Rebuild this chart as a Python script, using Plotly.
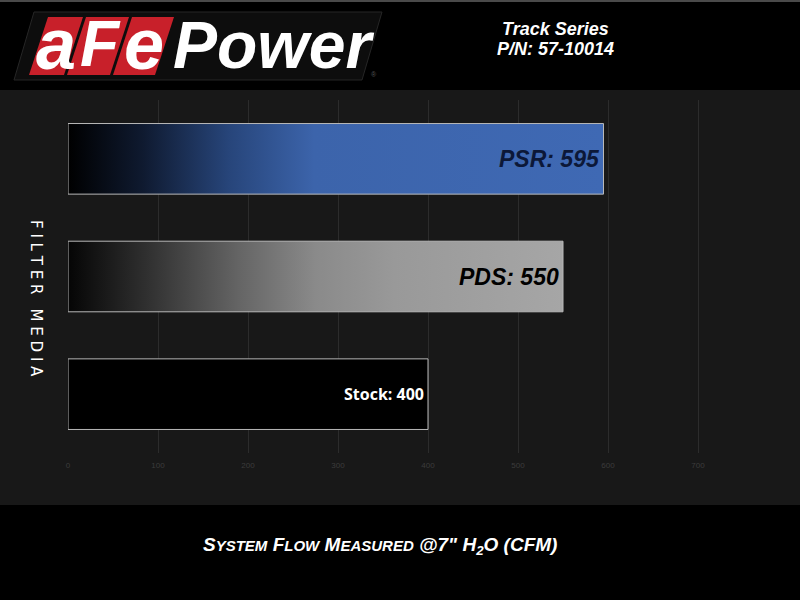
import plotly.graph_objects as go

categories = ["Stock", "PDS", "PSR"]
values = [400, 550, 595]
labels = ["Stock: 400", "PDS: 550", "PSR: 595"]
tick_vals = [0, 100, 200, 300, 400, 500, 600, 700]
title_lines = ["Track Series", "P/N: 57-10014"]

grad_scales = [
    [[0, "#000000"], [1, "#000000"]],
    [[0, "#050505"], [0.16, "#303030"], [0.35, "#666666"], [0.5, "#8a8a8a"], [0.66, "#999999"], [1, "#a6a6a6"]],
    [[0, "#000000"], [0.14, "#0f1a30"], [0.3, "#27457a"], [0.46, "#3c64ab"], [1, "#3f69b4"]],
]
label_fonts = [
    dict(family="Open Sans", size=16, color="#ffffff", weight="bold"),
    dict(family="Liberation Sans", size=23, color="#000000", weight="bold", style="italic"),
    dict(family="Liberation Sans", size=23, color="#0c1838", weight="bold", style="italic"),
]

ML, MR, MT, MB = 68, 12, 100, 147
PW, PH = 800 - ML - MR, 600 - MT - MB

fig = go.Figure()
hw = 0.3
for i, (c, v) in enumerate(zip(categories, values)):
    fig.add_trace(go.Scatter(
        x=[0, v, v, 0, 0], y=[i - hw, i - hw, i + hw, i + hw, i - hw],
        mode="lines", fill="toself",
        fillgradient=dict(type="horizontal", colorscale=grad_scales[i]),
        line=dict(color="#b8b8b8", width=1), name=c, showlegend=False, hoverinfo="skip"))
    fig.add_annotation(x=v, y=i, xref="x", yref="y", text=labels[i], showarrow=False,
                       xanchor="right", yanchor="middle", xshift=-2, font=label_fonts[i])


def PX(px):
    return (px - ML) / PW


def PY(py):
    return (600 - MB - py) / PH


shapes = []
shapes.append(dict(type="rect", xref="paper", yref="paper", x0=PX(0), x1=PX(800),
                   y0=PY(505), y1=PY(90), fillcolor="#181818", line_width=0, layer="below"))
shapes.append(dict(type="rect", xref="paper", yref="paper", x0=PX(0), x1=PX(800),
                   y0=PY(2), y1=PY(0), fillcolor="#4a4a4a", line_width=0, layer="below"))


def para(x0, x1, y0, y1, slant, color, line="rgba(0,0,0,0)"):
    pts = [(x0 + slant, y0), (x1 + slant, y0), (x1, y1), (x0, y1)]
    path = "M " + " L ".join(f"{PX(px):.5f},{PY(py):.5f}" for px, py in pts) + " Z"
    return dict(type="path", xref="paper", yref="paper", path=path, fillcolor=color,
                line=dict(color=line, width=1), layer="below")


shapes.append(para(14, 362, 12, 80, 20, "#0d0d0d", "#262626"))
for x0, x1 in [(29, 64), (67, 110), (113, 155)]:
    shapes.append(para(x0, x1, 17, 75, 19, "#c8202a"))

fig.update_layout(shapes=shapes)


def ann(text, px, py, size, color="#ffffff", family="Liberation Sans", bold=True, italic=True, **kw):
    font = dict(family=family, size=size, color=color)
    if bold:
        font["weight"] = "bold"
    if italic:
        font["style"] = "italic"
    fig.add_annotation(x=PX(px), y=PY(py), xref="paper", yref="paper", text=text,
                       showarrow=False, xanchor=kw.pop("xanchor", "center"),
                       yanchor=kw.pop("yanchor", "middle"), font=font, **kw)


for ch, cx, sz in zip(["a", "F", "e"], [56, 100, 144], [72, 64, 72]):
    ann(ch, cx, 44, sz)
ann("Power", 273, 45, 66)
ann("®", 374, 74, 7, color="#555555", bold=False, italic=False)

ann(title_lines[0], 555, 29, 18)
ann(title_lines[1], 555, 49, 18)

ann("F I L T E R   M E D I A", 36, 298, 15, family="DejaVu Sans", bold=False, italic=False,
    textangle=90)


def smallcaps(s, big=19, small=15):
    out = []
    for word in s.split(" "):
        if word and word[0].isalpha():
            out.append(f"<span style='font-size:{big}px'>{word[0].upper()}</span>"
                       f"<span style='font-size:{small}px'>{word[1:].upper()}</span>")
        else:
            out.append(f"<span style='font-size:{big}px'>{word}</span>")
    return " ".join(out)


xtitle = smallcaps("System Flow Measured") + " <span style='font-size:19px'>@7\" H<sub>2</sub>O (CFM)</span>"
ann(xtitle, 380, 546, 19)

fig.update_layout(
    width=800, height=600,
    margin=dict(l=ML, r=MR, t=MT, b=MB),
    paper_bgcolor="#000000", plot_bgcolor="rgba(0,0,0,0)",
    xaxis=dict(range=[0, 800], tickvals=tick_vals, ticktext=[str(t) for t in tick_vals],
               showgrid=True, gridcolor="#2c2c2c", gridwidth=1, zeroline=False, showline=False,
               tickfont=dict(family="Liberation Sans", size=8, color="#3c3c3c"), ticklen=0,
               ticklabelstandoff=6, fixedrange=True),
    yaxis=dict(range=[-0.5, 2.5], showticklabels=False, showgrid=False, zeroline=False,
               showline=False, fixedrange=True),
)

fig.write_html("out.html", config={"displayModeBar": False},
               post_script="document.body.style.margin='0';document.body.style.background='#000';")
